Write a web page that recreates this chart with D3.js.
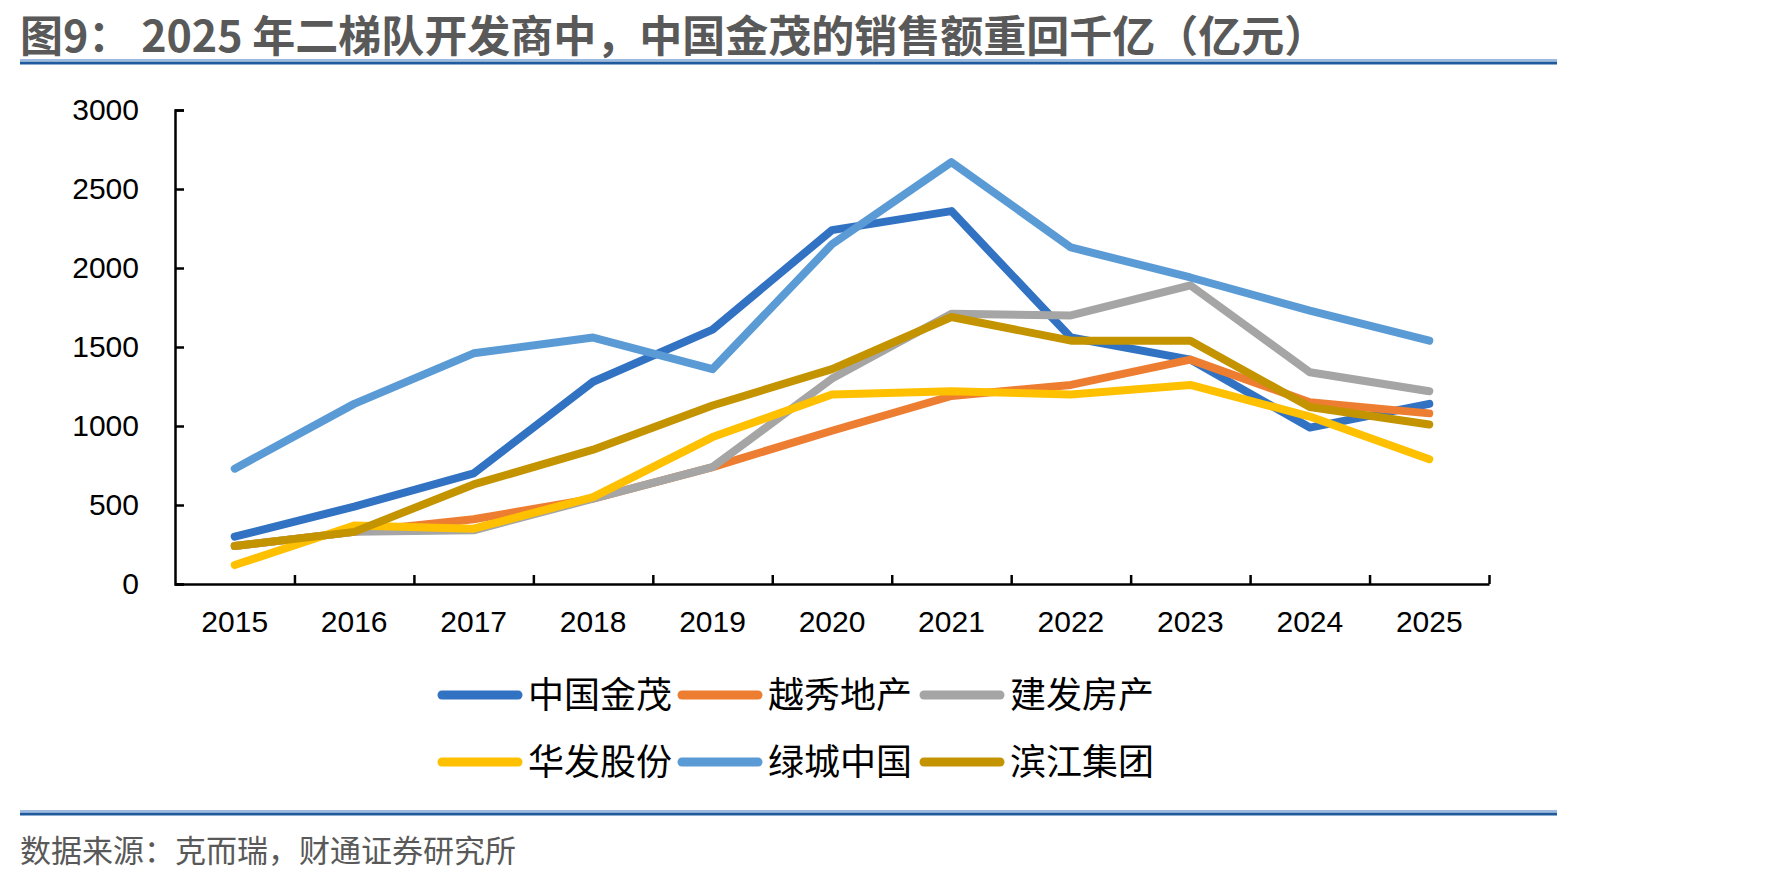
<!DOCTYPE html>
<html>
<head>
<meta charset="utf-8">
<script src="https://cdn.jsdelivr.net/npm/d3@7"></script>
<style>
  body { margin: 0; background: #fff; }
  svg { display: block; }
</style>
</head>
<body>
<script>
// data (亿元)
const years = ["2015", "2016", "2017", "2018", "2019", "2020", "2021", "2022", "2023", "2024", "2025"];
const jinmao   = [300, 490, 700, 1280, 1610, 2240, 2360, 1560, 1420, 990, 1140];
const yuexiu   = [240, 330, 410, 540, 740, 970, 1190, 1260, 1420, 1150, 1080];
const jianfa   = [240, 330, 340, 540, 740, 1300, 1710, 1700, 1890, 1340, 1220];
const huafa    = [120, 370, 350, 550, 930, 1200, 1220, 1200, 1260, 1060, 790];
const lvcheng  = [730, 1140, 1460, 1560, 1360, 2150, 2670, 2130, 1940, 1730, 1540];
const binjiang = [240, 330, 630, 850, 1130, 1360, 1690, 1540, 1540, 1120, 1010];
const yTicks = [0, 500, 1000, 1500, 2000, 2500, 3000];

const series = [
  {name: "中国金茂", values: jinmao,   color: "#3272C3"},
  {name: "越秀地产", values: yuexiu,   color: "#ED7D31"},
  {name: "建发房产", values: jianfa,   color: "#A5A5A5"},
  {name: "华发股份", values: huafa,    color: "#FFC000"},
  {name: "绿城中国", values: lvcheng,  color: "#5B9BD5"},
  {name: "滨江集团", values: binjiang, color: "#C49400"}
];

const W = 1771, H = 881;
const plotLeft = 175, plotRight = 1489, plotTop = 110, plotBottom = 584;

const svg = d3.select("body").append("svg").attr("width", W).attr("height", H);

// title + rules
svg.append("text")
   .attr("x", 20).attr("y", 52)
   .style("font-family", "'Noto Sans CJK SC', 'Liberation Sans', sans-serif")
   .style("font-size", "43px").style("font-weight", "bold")
   .style("fill", "#595959")
   .text("图9： 2025 年二梯队开发商中，中国金茂的销售额重回千亿（亿元）");

function rule(yy) {
  svg.append("line").attr("x1", 20).attr("x2", 1557).attr("y1", yy - 2).attr("y2", yy - 2)
     .attr("stroke", "#9DBBE0").attr("stroke-width", 2);
  svg.append("line").attr("x1", 20).attr("x2", 1557).attr("y1", yy + 1).attr("y2", yy + 1)
     .attr("stroke", "#1F5A9E").attr("stroke-width", 3);
}
rule(62);
rule(813);

svg.append("text")
   .attr("x", 20).attr("y", 862)
   .style("font-family", "'Noto Sans CJK SC', sans-serif")
   .style("font-size", "31px")
   .style("fill", "#595959")
   .text("数据来源：克而瑞，财通证券研究所");

// scales
const x = d3.scaleBand().domain(years).range([plotLeft, plotRight]);
const xEdge = d3.scaleLinear().domain([0, years.length]).range([plotLeft, plotRight]);
const y = d3.scaleLinear().domain([0, 3000]).range([plotBottom, plotTop]);

const axisFont = g => g.selectAll("text")
   .style("font-family", "'Liberation Sans', Arial, sans-serif")
   .style("font-size", "30px").style("fill", "#000");

// y axis
svg.append("g")
   .attr("transform", `translate(${plotLeft},0)`)
   .call(d3.axisLeft(y).tickValues(yTicks).tickSize(-9).tickPadding(36).tickFormat(d3.format("d")))
   .call(g => g.selectAll("line, path").attr("stroke", "#000").attr("stroke-width", 2.5))
   .call(axisFont);

// x axis labels
svg.append("g")
   .attr("transform", `translate(0,${plotBottom})`)
   .call(d3.axisBottom(x).tickSize(0).tickPadding(27))
   .call(g => g.select(".domain").remove())
   .call(axisFont);

// x axis line with boundary ticks pointing up
svg.append("g")
   .attr("transform", `translate(0,${plotBottom})`)
   .call(d3.axisBottom(xEdge).tickValues(d3.range(1, years.length + 1)).tickSize(-9).tickSizeOuter(0).tickFormat(""))
   .call(g => g.selectAll("line, path").attr("stroke", "#000").attr("stroke-width", 2.5));

// lines
const line = d3.line()
   .x((d, i) => x(years[i]) + x.bandwidth() / 2)
   .y(d => y(d));

svg.append("g").selectAll("path")
   .data(series)
   .enter()
   .append("path")
   .attr("d", d => line(d.values))
   .attr("fill", "none")
   .attr("stroke", d => d.color)
   .attr("stroke-width", 8)
   .attr("stroke-linecap", "round")
   .attr("stroke-linejoin", "round");

// legend
const legX = [438, 678, 920], legY = [695, 762];
const leg = svg.append("g").selectAll("g")
   .data(series)
   .enter()
   .append("g")
   .attr("transform", (d, i) => `translate(${legX[i % 3]},${legY[Math.floor(i / 3)]})`);

leg.append("line")
   .attr("x1", 4).attr("x2", 80)
   .attr("stroke", d => d.color)
   .attr("stroke-width", 9)
   .attr("stroke-linecap", "round");

leg.append("text")
   .attr("x", 90).attr("dy", "0.36em")
   .style("font-family", "'Noto Sans CJK SC', sans-serif")
   .style("font-size", "36px")
   .style("fill", "#000")
   .text(d => d.name);
</script>
</body>
</html>
